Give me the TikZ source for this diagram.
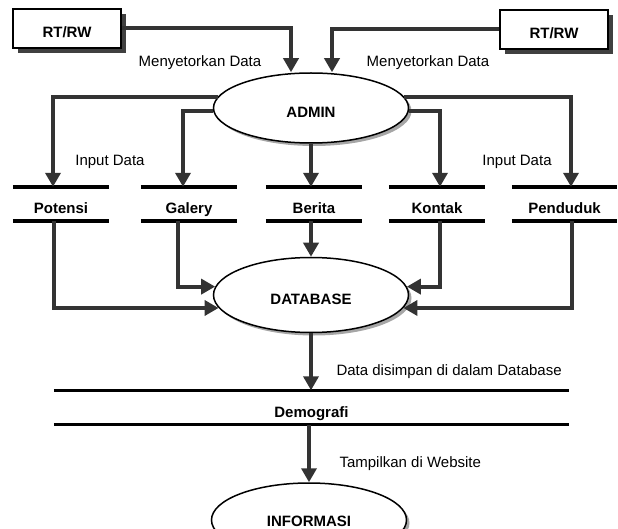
\documentclass[tikz,border=0pt]{standalone}
\usepackage{fontspec}
\setmainfont{Liberation Sans}
\usetikzlibrary{shapes.geometric,shadows,arrows.meta}
\definecolor{flowgray}{HTML}{333333}
\definecolor{shadegray}{HTML}{A6A6A6}
\begin{document}
\begin{tikzpicture}[x=1pt,y=-1pt,font=\fontsize{15}{18}\selectfont,every node/.style={text=black},
    entity/.style={draw=black,line width=2pt,fill=white,minimum width=108pt,minimum height=39pt,
      text height=19pt,text depth=0pt,font=\fontsize{15}{18}\selectfont\bfseries,
      drop shadow={shadow xshift=5pt,shadow yshift=-5pt,fill=black!75,opacity=1}},
    process/.style={ellipse,draw=black,line width=1.5pt,fill=white,inner sep=0pt,
      minimum width=195pt,minimum height=#1,text height=19pt,text depth=0pt,
      font=\fontsize{15}{18}\selectfont\bfseries,
      drop shadow={shadow xshift=3pt,shadow yshift=-3pt,fill=shadegray,opacity=1}},
    process/.default=72pt,
    store/.style={minimum width=#1,minimum height=34pt,inner sep=0pt,
      text height=19pt,text depth=0pt,font=\fontsize{15}{18}\selectfont\bfseries},
    storeline/.style={draw=black,line width=3.5pt},
    flow/.style={draw=flowgray,line width=4pt,-{Triangle[width=15pt,length=14pt]}}]
    \useasboundingbox (0,0) rectangle (618,529);
    \clip (0,0) rectangle (618,529);
    % external entities
    \node[entity] (rtl) at (67,28.5) {RT/RW};
    \node[entity] (rtr) at (554,29.5) {RT/RW};
    % processes
    \node[process=70pt] (admin) at (311,108) {ADMIN};
    \node[process=75pt] (db) at (311,295) {DATABASE};
    \node[process=74pt,text height=12pt] (info) at (309,520) {INFORMASI};
    % data stores
    \node[store=96pt] (pot) at (61,204) {Potensi};
    \node[store=96pt] (gal) at (189,204) {Galery};
    \node[store=96pt] (ber) at (314,204) {Berita};
    \node[store=96pt] (kon) at (437,204) {Kontak};
    \node[store=105pt] (pen) at (564.5,204) {Penduduk};
    \node[store=515pt] (dem) at (311.5,407.5) {Demografi};
    \foreach \s in {pot,gal,ber,kon,pen,dem}
      \draw[storeline] (\s.north west) -- (\s.north east) (\s.south west) -- (\s.south east);
    % flow labels
    \node (lblrtl) at (200,63) {Menyetorkan Data};
    \node (lblrtr) at (428,63) {Menyetorkan Data};
    \node (lblinl) at (110,162) {Input Data};
    \node (lblinr) at (517,162) {Input Data};
    \node[anchor=west] (lblsave) at (333,372) {Data disimpan di dalam Database};
    \node[anchor=west] (lblshow) at (336,464) {Tampilkan di Website};
    % flows
    \draw[flow] (rtl.east) -| (291,0 |- admin.north);
    \draw[flow] (rtr.west) -| (332,0 |- admin.north);
    \draw[flow] (admin.173) -| (53,0 |- pot.north);
    \draw[flow] (admin.182) -| (183,0 |- gal.north);
    \draw[flow] (admin.south) -- (admin.south |- ber.north);
    \draw[flow] (admin.358) -| (440,0 |- kon.north);
    \draw[flow] (admin.7) -| (571,0 |- pen.north);
    \draw[flow] (54,0 |- pot.south) |- (db.188);
    \draw[flow] (178,0 |- gal.south) |- (db.175);
    \draw[flow] (db.north |- ber.south) -- (db.north);
    \draw[flow] (440,0 |- kon.south) |- (db.5);
    \draw[flow] (572,0 |- pen.south) |- (db.352);
    \draw[flow] (db.south) -- (db.south |- dem.north);
    \draw[flow] (info.north |- dem.south) -- (info.north);
\end{tikzpicture}
\end{document}
